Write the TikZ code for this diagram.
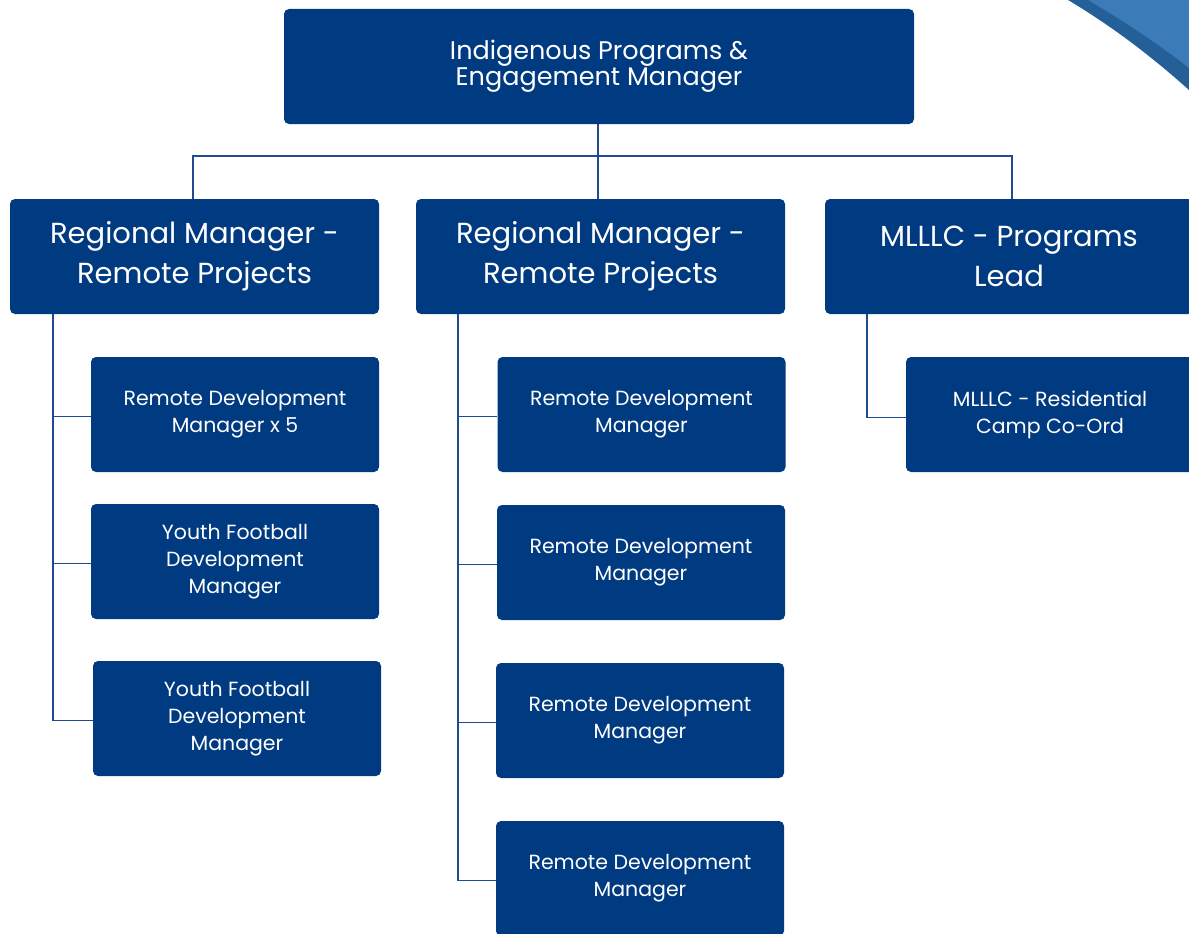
\documentclass[tikz,border=0pt]{standalone}
\usepackage{fontspec}
\setmainfont{Poppins}
\definecolor{boxblue}{HTML}{003A80}
\definecolor{linkblue}{HTML}{1F4C91}
\definecolor{waveblue}{HTML}{3A7BB8}
\definecolor{wavedark}{HTML}{245F97}
\tikzset{
  chartbox/.style={fill=boxblue, rounded corners=5pt, text=white, align=center, inner sep=0pt},
  topbox/.style={chartbox, minimum width=630pt, minimum height=115pt, font=\fontsize{25.5}{26}\selectfont},
  headbox/.style={chartbox, minimum width=369pt, minimum height=115pt, font=\fontsize{29}{40}\selectfont},
  rolebox/.style={chartbox, minimum width=288pt, minimum height=115pt, font=\fontsize{20.5}{27}\selectfont},
  link/.style={draw=linkblue, line width=1.6pt}
}
\begin{document}
\begin{tikzpicture}[x=1pt,y=-1pt]
    \path[use as bounding box, clip] (0,0) rectangle (1189,934);
    %Corner wave
    \fill[wavedark] (1068,0) .. controls (1110,25) and (1150,55) .. (1189,90) -- (1189,0) -- cycle;
    \fill[waveblue] (1088,0) .. controls (1125,22) and (1160,45) .. (1189,68) -- (1189,0) -- cycle;
    %Top
    \node[topbox] (top) at (599,66.5) {Indigenous Programs \&\\Engagement Manager};
    %Second level
    \node[headbox] (rmA) at (194.5,256.5) {Regional Manager -\\Remote Projects};
    \node[headbox] (rmB) at (600.5,256.5) {Regional Manager -\\Remote Projects};
    \node[headbox, minimum width=368pt] (lead) at (1009,256.5) {MLLLC - Programs\\Lead};
    %Roles under first manager
    \node[rolebox] (rdA1) at (235,414.5) {Remote Development\\Manager x 5};
    \node[rolebox] (rdA2) at (235,561.5) {Youth Football\\Development\\Manager};
    \node[rolebox] (rdA3) at (237,718.5) {Youth Football\\Development\\Manager};
    %Roles under second manager
    \node[rolebox] (rdB1) at (641.5,414.5) {Remote Development\\Manager};
    \node[rolebox] (rdB2) at (641,562.5) {Remote Development\\Manager};
    \node[rolebox] (rdB3) at (640,720.5) {Remote Development\\Manager};
    \node[rolebox] (rdB4) at (640,878.5) {Remote Development\\Manager};
    %Role under lead
    \node[rolebox] (camp) at (1050,414.5) {MLLLC - Residential\\Camp Co-Ord};
    %Links from top
    \coordinate (fork) at (598,156);
    \draw[link] (top.south -| fork) -- (fork);
    \draw[link] (rmA.north -| 193,0) |- (fork) -| (lead.north -| 1012,0);
    \draw[link] (fork) -- (fork |- rmB.north);
    %Links to roles
    \foreach \r in {rdA1,rdA2,rdA3}
      \draw[link] ([xshift=43pt]rmA.south west) |- ([yshift=-2pt]\r.west);
    \foreach \r in {rdB1,rdB2,rdB3,rdB4}
      \draw[link] ([xshift=42pt]rmB.south west) |- ([yshift=-2pt]\r.west);
    \draw[link] ([xshift=42pt]lead.south west) |- ([yshift=-3pt]camp.west);
\end{tikzpicture}
\end{document}
